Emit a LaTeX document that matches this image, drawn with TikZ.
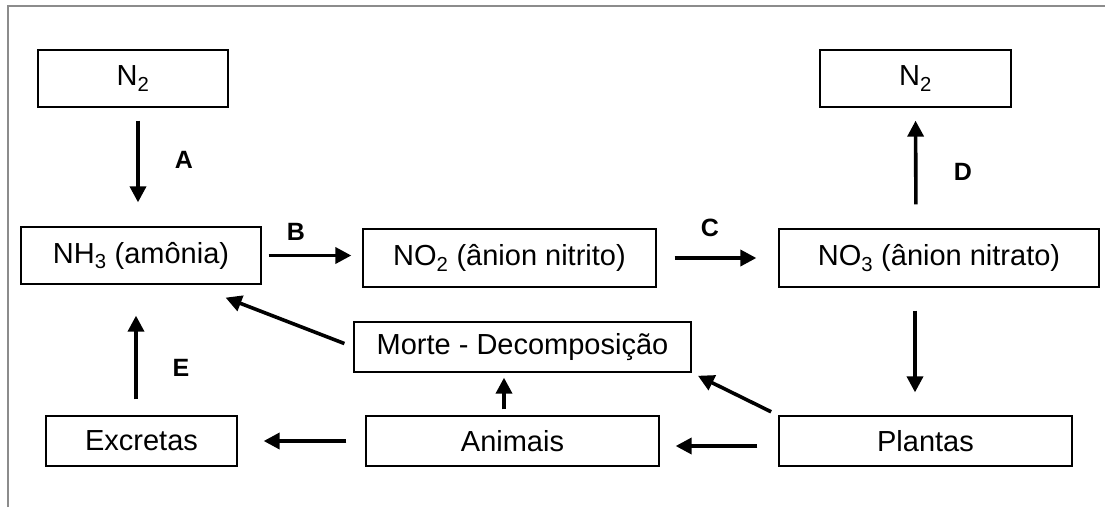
\documentclass[tikz,border=0pt]{standalone}
\usepackage{fontspec}
\setmainfont{Liberation Sans}
\usetikzlibrary{arrows.meta}
\definecolor{cadregris}{rgb}{0.55,0.55,0.55}
\tikzset{boite/.style={draw, line width=1.3pt, inner sep=0pt, font=\fontsize{29}{33}\selectfont},
         fleche/.style={line width=3.6pt, -{Triangle[length=16pt,width=16pt]}},
         lettre/.style={font=\fontsize{25}{29}\selectfont\bfseries},
         cadre/.style={line width=2.5pt, color=cadregris}}

\begin{document}
\begin{tikzpicture}[x=1pt,y=-1pt]
\useasboundingbox (0,0) rectangle (1105,507);
% Grey frame (top and left only):
\draw[cadre] (8,507) -- (8,6) -- (1105,6);
% Top row:
\node[boite, minimum width=190pt, minimum height=57pt] (n2a) at (133,78.5) {N\textsubscript{2}};
\node[boite, minimum width=191pt, minimum height=57pt] (n2b) at (915.5,78.5) {N\textsubscript{2}};
% Middle row:
\node[boite, minimum width=240pt, minimum height=57pt] (nh3) at (141,255.5) {NH\textsubscript{3} (amônia)};
\node[boite, minimum width=293pt, minimum height=58pt] (no2) at (509.5,258) {NO\textsubscript{2} (ânion nitrito)};
\node[boite, minimum width=320pt, minimum height=58pt] (no3) at (939,258) {NO\textsubscript{3} (ânion nitrato)};
\node[boite, minimum width=337pt, minimum height=50pt] (morte) at (522.5,347) {Morte - Decomposição};
% Bottom row:
\node[boite, minimum width=191pt, minimum height=50pt] (excretas) at (141.5,441) {Excretas};
\node[boite, minimum width=293pt, minimum height=50pt] (animais) at (512.5,441) {Animais};
\node[boite, minimum width=293pt, minimum height=50pt] (plantas) at (925.5,441) {Plantas};
% Letters:
\node[lettre] (labA) at (184,160) {A};
\node[lettre] (labB) at (296,232) {B};
\node[lettre] (labC) at (710,228) {C};
\node[lettre] (labD) at (963,172) {D};
\node[lettre] (labE) at (181,368) {E};
% Arrows:
\draw[fleche, shorten <=13pt, shorten >=24pt] ([xshift=5pt]n2a.south) -- ([xshift=-3pt]nh3.north); % A
\draw[fleche, shorten <=7pt, shorten >=11pt] (nh3.east) -- (nh3.east -| no2.west); % B
\draw[fleche, shorten <=18pt, shorten >=22pt] (no2.east) -- (no2.east -| no3.west); % C
\draw[fleche, shorten <=24pt, shorten >=13pt] ([xshift=-23pt]no3.north) -- (n2b.south); % D
\draw[fleche, shorten <=23pt, shorten >=23pt] ([xshift=-24pt]no3.south) -- ([xshift=-10.5pt]plantas.north);
\draw[fleche, shorten <=8pt, shorten >=7pt] (plantas.north west) -- (morte.south east);
\draw[fleche, shorten <=9.6pt, shorten >=36pt] (morte.west) -- ([xshift=51pt]nh3.south);
\draw[fleche, shorten <=16pt, shorten >=31pt] ([xshift=-5.5pt]excretas.north) -- ([xshift=-5pt]nh3.south); % E
\draw[fleche, shorten <=6pt, shorten >=5pt] ([xshift=-8.5pt]animais.north) -- ([xshift=-18.5pt]morte.south);
\draw[fleche, shorten <=19pt, shorten >=26pt] (animais.west) -- (excretas.east);
\draw[fleche, shorten <=21pt, shorten >=16pt] ([yshift=-5pt]plantas.west) -- ([yshift=-5pt]animais.east);
\end{tikzpicture}
\end{document}
